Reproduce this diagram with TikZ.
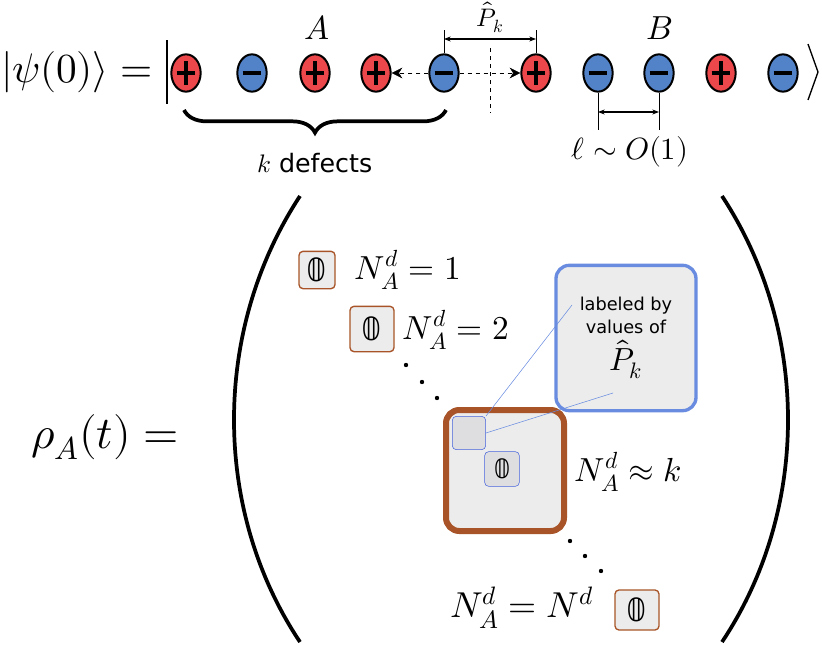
\documentclass[tikz,border=0pt]{standalone}
\usepackage{amsmath}
\usepackage{fontspec}
\usepackage{unicode-math}
\setmathfont{Latin Modern Math}
\setsansfont{DejaVu Sans}
\newfontfamily\dsfont{DejaVu Sans}
\usetikzlibrary{shapes.geometric,decorations.pathreplacing,arrows.meta}
\definecolor{posred}{RGB}{236,72,75}
\definecolor{negblue}{RGB}{82,130,200}
\definecolor{brbox}{RGB}{168,84,40}
\definecolor{blbox}{RGB}{70,100,220}
\definecolor{callblue}{RGB}{105,140,225}
\newcommand{\bbzero}{{\dsfont 𝟘}}
\tikzset{
  charge/.style={ellipse,draw,line width=1.5pt,minimum width=22,minimum height=28,inner sep=0},
  poscharge/.style={charge,fill=posred,
    path picture={\draw[line width=2.4pt] ([xshift=-7]path picture bounding box.center)--([xshift=7]path picture bounding box.center);
      \draw[line width=2.4pt] ([yshift=-9]path picture bounding box.center)--([yshift=9]path picture bounding box.center);}},
  negcharge/.style={charge,fill=negblue,
    path picture={\draw[line width=2.4pt] ([xshift=-7]path picture bounding box.center)--([xshift=7]path picture bounding box.center);}},
  zerobox/.style={draw=brbox,line width=1pt,rounded corners=3,fill=gray!15,minimum width=27,minimum height=28,inner sep=0,
    font=\fontsize{24}{26}\selectfont},
  bigtxt/.style={font=\fontsize{25}{30}\selectfont},
}
\begin{document}
\begin{tikzpicture}[x=0.75pt,y=-0.75pt]
  \useasboundingbox (0,0) rectangle (822,646);
  % initial state
  \node[font=\fontsize{31}{36}\selectfont,inner sep=0,anchor=west] (psi) at (1,72) {$|\psi(0)\rangle =$};
  \draw[line width=1pt] (167,40) -- (167,104);
  \draw[line width=1pt] (808,44) -- (818,72) -- (808,100);
  \foreach \x/\s/\n in {186/poscharge/c1,252/negcharge/c2,315/poscharge/c3,376/poscharge/c4,444/negcharge/c5,
                        536/poscharge/c6,598/negcharge/c7,659/negcharge/c8,721/poscharge/c9,783/negcharge/c10}
    \node[\s] (\n) at (\x,73) {};
  \node[bigtxt] (lA) at (317,28) {$A$};
  \node[bigtxt] (lB) at (660,28) {$B$};
  % momentum transfer
  \draw[dashed] (490,48) -- (490,113);
  \draw[dashed,-{Stealth[length=8,width=8]}] (c5) -- (c4);
  \draw[dashed,-{Stealth[length=8,width=8]}] (c5) -- (c6);
  \draw (c5.north) -- (444,30);
  \draw (c6.north) -- (536,30);
  \draw[line width=0.8pt,{Stealth[length=5]}-{Stealth[length=5]}] (444,39) -- (536,39);
  \node[font=\fontsize{19}{21}\selectfont,inner sep=1] (lP) at (490,17) {$\hat{P}_k$};
  \draw[decorate,decoration={brace,mirror,amplitude=17pt},line width=2.8pt] (184,110) -- (446,110);
  \node[font=\fontsize{19}{22}\selectfont] (ldef) at (315,163) {$k$ \sffamily defects};
  \draw (c7.south) -- (598,130);
  \draw (c8.south) -- (659,130);
  \draw[line width=0.8pt,{Stealth[length=5]}-{Stealth[length=5]}] (598,112) -- (659,112);
  \node[font=\fontsize{23}{27}\selectfont] (lell) at (630,152) {$\ell\sim O(1)$};
  % density matrix
  \node[font=\fontsize{34}{40}\selectfont,inner sep=0] (rho) at (105,437) {$\rho_A(t) =$};
  \draw[line width=2.8pt] (300,196) .. controls (212,330) and (212,510) .. (300,642);
  \draw[line width=2.8pt] (722,196) .. controls (810,330) and (810,510) .. (722,642);
  \node[zerobox] (z1) at (317,270) {\bbzero};
  \node[bigtxt,anchor=west] (n1) at (350,270) {$N_A^d = 1$};
  \node[zerobox,minimum width=33,minimum height=34] (z2) at (372,329) {\bbzero};
  \node[bigtxt,anchor=west] (n2) at (398,330) {$N_A^d = 2$};
  \foreach \p in {(406,365),(422,382),(437,398),(523,492),(533,503),(544,514),(570,541),(585,556),(601,571)}
    \fill \p circle (2.2);
  \draw[brbox,line width=4.5pt,rounded corners=10,fill=gray!15] (446,410) rectangle (564,531);
  \node[draw=blbox,rounded corners=3,fill=blue!5!gray!25,minimum width=25,minimum height=25] (sb) at (469,433) {};
  \node[draw=blbox,rounded corners=3,fill=blue!5!gray!25,minimum width=26,minimum height=26,inner sep=0,font=\fontsize{20}{22}\selectfont] (zb) at (502,469) {\bbzero};
  \node[bigtxt,anchor=west] (nk) at (570,472) {$N_A^d \approx k$};
  \node[font=\fontsize{27}{30}\selectfont] (nN) at (522,608) {$N_A^d = N^d$};
  \node[zerobox,minimum width=33,minimum height=30] (z3) at (637,610) {\bbzero};
  % callout
  \node[draw=callblue,line width=2.5pt,rounded corners=10,fill=gray!15,minimum width=105,minimum height=109,
        align=center,inner sep=0,font=\sffamily\fontsize{13.3}{17}\selectfont] (call) at (626,338)
        {labeled by\\values of\\[4pt]{\fontsize{24}{26}\selectfont$\hat{P}_k$}};
  \draw[callblue,line width=0.4pt] (sb.north east) -- (572,305);
  \draw[callblue,line width=0.4pt] (sb.east) -- (613,393);
\end{tikzpicture}
\end{document}
